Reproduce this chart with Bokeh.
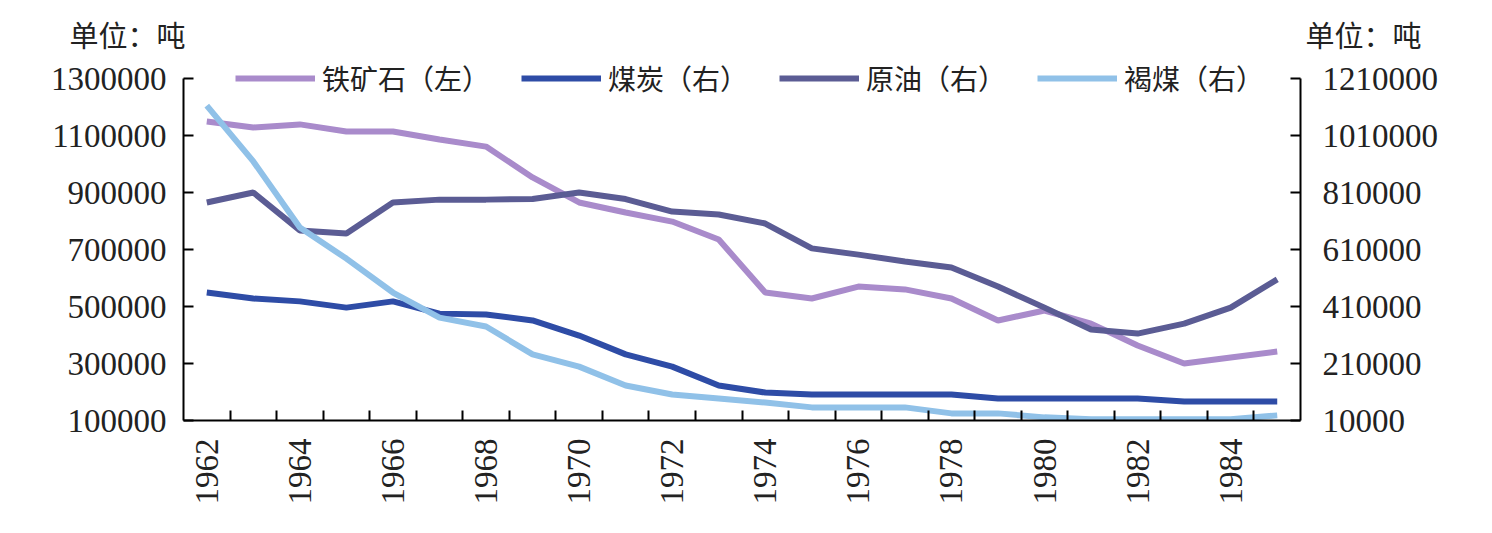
from bokeh.plotting import figure
from bokeh.layouts import column
from bokeh.models import (Range1d, LinearAxis, FixedTicker, BasicTickFormatter,
                          Legend, LegendItem, ColumnDataSource)
from bokeh.core.properties import value
from bokeh.embed import file_html
from bokeh.resources import INLINE
import math

years = list(range(1962, 1986))
iron_ore = [1149000, 1128000, 1139000, 1114000, 1114000, 1086000, 1061000, 953000,
            865000, 830000, 798000, 735000, 549000, 528000, 570000, 560000,
            528000, 451000, 486000, 440000, 363000, 300000, 321000, 342000]
coal = [459000, 438000, 428000, 406000, 428000, 385000, 382000, 361000,
        308000, 242000, 199000, 133000, 108000, 101000, 101000, 101000,
        101000, 87000, 87000, 87000, 87000, 77000, 77000, 77000]
crude = [775000, 810000, 677000, 666000, 775000, 785000, 785000, 787000,
         810000, 787000, 743000, 733000, 701000, 614000, 592000, 568000,
         547000, 480000, 406000, 329000, 315000, 350000, 406000, 505000]
lignite = [1115000, 919000, 687000, 578000, 459000, 371000, 340000, 242000,
           199000, 133000, 101000, 87000, 73000, 56000, 56000, 56000,
           35000, 35000, 21000, 14000, 14000, 14000, 14000, 28000]

names = ["铁矿石（左）", "煤炭（右）", "原油（右）", "褐煤（右）"]
colors = ["#A98BCB", "#2E4CA6", "#5B5C94", "#90C1E8"]
left_ticks = [100000, 300000, 500000, 700000, 900000, 1100000, 1300000]
right_ticks = [10000, 210000, 410000, 610000, 810000, 1010000, 1210000]
label_years = list(range(1962, 1986, 2))
unit_text = "单位：吨"

serif = "Liberation Serif"
cjk = "Noto Sans CJK SC"
txt_color = "#222222"

W = 1492
HEADER_H = 56
MAIN_H = 533 - HEADER_H
FRAME_L, FRAME_R = 183, 1300

# ---- header with the two unit captions ----
head = figure(width=W, height=HEADER_H, output_backend="svg", toolbar_location=None,
              x_range=Range1d(0, W), y_range=Range1d(0, HEADER_H),
              x_axis_type=None, y_axis_type=None,
              min_border=0, min_border_left=0, min_border_right=0,
              min_border_top=0, min_border_bottom=0, frame_align=False)
head.outline_line_color = None
head.xgrid.visible = False
head.ygrid.visible = False
head.text(x=[FRAME_L + 2], y=[HEADER_H - 33], text=[unit_text], text_align="right",
          text_baseline="middle", text_font=value(cjk), text_font_size="29px",
          text_color=txt_color)
head.text(x=[FRAME_R + 5], y=[HEADER_H - 33], text=[unit_text], text_align="left",
          text_baseline="middle", text_font=value(cjk), text_font_size="29px",
          text_color=txt_color)

# ---- main chart ----
axis_px = 342
extra_px = 78 - HEADER_H
span = left_ticks[-1] - left_ticks[0]
headroom = span * extra_px / axis_px

p = figure(width=W, height=MAIN_H, output_backend="svg", toolbar_location=None,
           x_range=Range1d(years[0] - 0.5, years[-1] + 0.5),
           y_range=Range1d(left_ticks[0], left_ticks[-1] + headroom),
           min_border_left=FRAME_L, min_border_right=W - FRAME_R, min_border_top=0,
           min_border_bottom=113, frame_align=False)
p.extra_y_ranges = {"right": Range1d(right_ticks[0], right_ticks[-1] + headroom)}
p.outline_line_color = None
p.xgrid.visible = False
p.ygrid.visible = False

src = ColumnDataSource(dict(year=years, iron=iron_ore, coal=coal, crude=crude, lignite=lignite))
r_iron = p.line("year", "iron", source=src, line_color=colors[0], line_width=6)
r_coal = p.line("year", "coal", source=src, line_color=colors[1], line_width=6, y_range_name="right")
r_crude = p.line("year", "crude", source=src, line_color=colors[2], line_width=6, y_range_name="right")
r_lig = p.line("year", "lignite", source=src, line_color=colors[3], line_width=6, y_range_name="right")

# x axis
xa = p.xaxis[0]
xa.ticker = FixedTicker(ticks=label_years,
                        minor_ticks=[y + 0.5 for y in years[:-1]])
xa.major_tick_in = 0
xa.major_tick_out = 0
xa.minor_tick_in = 10
xa.minor_tick_out = 0
xa.minor_tick_line_color = "black"
xa.minor_tick_line_width = 2
xa.axis_line_width = 2
xa.axis_line_color = "black"
xa.major_label_orientation = math.pi / 2
xa.major_label_text_font = serif
xa.major_label_text_font_size = "33px"
xa.major_label_text_color = txt_color
xa.major_label_standoff = 18

# left y axis
ya = p.yaxis[0]
ya.ticker = FixedTicker(ticks=left_ticks, minor_ticks=[])
ya.formatter = BasicTickFormatter(use_scientific=False)
ya.bounds = (left_ticks[0], left_ticks[-1])
ya.major_tick_in = 10
ya.major_tick_out = 0
ya.minor_tick_in = 0
ya.minor_tick_out = 0
ya.major_tick_line_width = 2
ya.axis_line_width = 2
ya.major_label_text_font = serif
ya.major_label_text_font_size = "33px"
ya.major_label_text_color = txt_color
ya.major_label_standoff = 17

# right y axis
ra = LinearAxis(y_range_name="right",
                ticker=FixedTicker(ticks=right_ticks, minor_ticks=[]),
                formatter=BasicTickFormatter(use_scientific=False),
                bounds=(right_ticks[0], right_ticks[-1]))
ra.major_tick_in = 10
ra.major_tick_out = 0
ra.minor_tick_in = 0
ra.minor_tick_out = 0
ra.major_tick_line_width = 2
ra.axis_line_width = 2
ra.major_label_text_font = serif
ra.major_label_text_font_size = "33px"
ra.major_label_text_color = txt_color
ra.major_label_standoff = 22
p.add_layout(ra, "right")

legend = Legend(items=[LegendItem(label=names[0], renderers=[r_iron]),
                       LegendItem(label=names[1], renderers=[r_coal]),
                       LegendItem(label=names[2], renderers=[r_crude]),
                       LegendItem(label=names[3], renderers=[r_lig])],
                orientation="horizontal", location=(52, 322),
                glyph_width=80, glyph_height=30, label_standoff=7, spacing=31,
                padding=0, margin=0, border_line_color=None,
                background_fill_alpha=0,
                label_text_font=cjk, label_text_font_size="28px",
                label_text_color=txt_color)
p.add_layout(legend, "center")

layout = column(head, p, spacing=0)
open("out.html", "w").write(file_html(layout, INLINE))
